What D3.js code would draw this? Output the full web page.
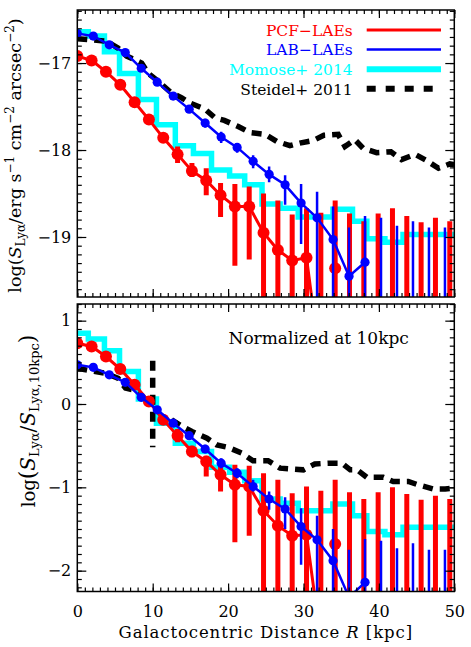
<!DOCTYPE html>
<html><head><meta charset="utf-8">
<script src="https://cdn.jsdelivr.net/npm/d3@7"></script>
<style>body{margin:0;background:#fff}svg{display:block}</style>
</head><body>
<svg id="c" width="471" height="647"></svg>
<script>
// ---------- data ----------
const xTickVals = [0, 10, 20, 30, 40, 50];
const topTickVals = [-19, -18, -17];
const botTickVals = [-2, -1, 0, 1];
const seriesNames = ["PCF\u2212LAEs", "LAB\u2212LAEs", "Momose+ 2014", "Steidel+ 2011"];
const noteText = "Normalized at 10kpc";

// PCF-LAEs (red)
const pcfR = [0,1.9,3.8,5.7,7.6,9.5,11.4,13.3,15.2,17.1,19.0,20.9,22.8,24.7,26.6,28.5,30.4,32.3,34.2,36.1,38.0,39.9,41.8,43.7,45.6,47.5,49.4];
const pcfTop = [-16.92,-16.97,-17.10,-17.25,-17.45,-17.65,-17.86,-18.05,-18.24,-18.35,-18.52,-18.65,-18.65,-18.95,-19.15,-19.27,-19.24,-20.5,-19.36,null,null,null,null,null,null,null,null];
const pcfTopHi = [-16.90,-16.95,-17.07,-17.22,-17.42,-17.62,-17.81,-17.96,-18.15,-18.21,-18.38,-18.39,-18.42,-18.50,-18.58,-18.74,-18.67,-18.72,-18.58,-18.73,-18.82,-18.73,-18.67,-18.76,-18.83,-18.78,-18.82];
const pcfTopLo = [-16.94,-16.99,-17.13,-17.28,-17.48,-17.68,-17.91,-18.15,-18.31,-18.52,-18.77,-19.33,-19.26,-21,-21,-21,-21,-21,-21,-21,-21,-21,-21,-21,-21,-21,-21];
const pcfBot = [0.73,0.69,0.57,0.42,0.23,0.03,-0.19,-0.38,-0.57,-0.69,-0.85,-0.97,-0.99,-1.28,-1.46,-1.58,-1.57,-2.85,-1.68,null,null,null,null,null,null,null,null];
const pcfBotHi = [0.75,0.71,0.60,0.45,0.26,0.06,-0.14,-0.30,-0.50,-0.62,-0.73,-0.73,-0.74,-0.83,-0.91,-1.07,-0.99,-1.04,-0.91,-1.06,-1.14,-1.06,-1.00,-1.08,-1.15,-1.10,-1.14];
const pcfBotLo = [0.71,0.67,0.54,0.39,0.20,0.00,-0.24,-0.46,-0.64,-0.87,-1.05,-1.66,-1.58,-3.5,-3.5,-3.5,-3.5,-3.5,-3.5,-3.5,-3.5,-3.5,-3.5,-3.5,-3.5,-3.5,-3.5];
const pcfLastJoined = 17;   // line joins points 0..17

// LAB-LAEs (blue)
const labR = [0,2.12,4.24,6.36,8.48,10.6,12.72,14.84,16.96,19.08,21.2,23.32,25.44,27.56,29.68,31.8,33.92,36.04,38.16,40.28,42.4,44.52,46.64,48.76];
const labTop = [-16.66,-16.69,-16.79,-16.88,-17.06,-17.22,-17.38,-17.53,-17.69,-17.85,-17.97,-18.13,-18.28,-18.40,-18.61,-18.78,-19.03,-19.45,-19.29,null,null,null,null,null];
const labTopHi = [-16.65,-16.68,-16.78,-16.87,-17.04,-17.20,-17.35,-17.49,-17.64,-17.79,-17.92,-18.06,-18.19,-18.29,-18.39,-18.48,-18.65,-18.89,-18.76,-18.78,-18.87,-18.82,-18.89,-18.89];
const labTopLo = [-16.67,-16.70,-16.80,-16.89,-17.08,-17.24,-17.41,-17.57,-17.74,-17.92,-18.03,-18.21,-18.37,-18.63,-19.08,-21,-21,-21,-21,-21,-21,-21,-21,-21];
const labBot = [0.47,0.44,0.35,0.26,0.08,-0.07,-0.23,-0.38,-0.54,-0.71,-0.83,-0.99,-1.14,-1.26,-1.47,-1.63,-1.88,-2.32,-2.14,null,null,null,null,null];
const labBotHi = [0.48,0.45,0.36,0.27,0.10,-0.05,-0.20,-0.34,-0.49,-0.65,-0.77,-0.91,-1.05,-1.12,-1.25,-1.34,-1.50,-1.75,-1.62,-1.64,-1.73,-1.67,-1.75,-1.75];
const labBotLo = [0.46,0.43,0.34,0.25,0.06,-0.09,-0.26,-0.42,-0.59,-0.77,-0.89,-1.05,-1.27,-1.50,-1.93,-3.5,-3.5,-3.5,-3.5,-3.5,-3.5,-3.5,-3.5,-3.5];

// Momose+ 2014 (cyan step)
const momEdges = [0,1.46,3.6,5.6,8.1,10.5,13.0,15.4,17.8,20.2,22.2,24.5,26.9,29.3,33.9,36.5,38.4,40.8,43.2,50];
const momTop = [-16.64,-16.69,-16.87,-17.12,-17.42,-17.71,-17.95,-18.04,-18.23,-18.30,-18.40,-18.62,-18.67,-18.77,-18.68,-18.82,-19.02,-19.06,-18.97];
const momBot = [0.85,0.78,0.64,0.39,0.06,-0.23,-0.47,-0.57,-0.76,-0.82,-0.92,-1.14,-1.19,-1.28,-1.20,-1.34,-1.53,-1.57,-1.48];

// Steidel+ 2011 (black dashed); null = break in the line
const stR = [0,1.46,3.9,5.44,6.55,8.54,9.42,10.74,12.3,13.85,14.95,16.94,18.26,19.5,21.35,22.9,24.9,26.45,28.2,29.5,31.3,32.7,34.6,35.5,36.8,37.9,39.7,41.6,43.0,44.8,46.3,47.9,49.4,50];
const stTop = [-16.72,-16.73,-16.75,-16.83,-16.92,-17.00,-17.12,-17.21,-17.33,-17.40,-17.46,-17.53,-17.63,-17.66,-17.73,-17.80,-17.82,-17.90,-17.95,-17.92,-17.89,-17.83,-17.82,-17.96,-17.88,-17.98,-18.03,-18.02,-18.11,-18.05,-18.12,-18.21,-18.16,-18.17];
const stBR = [0,1.7,3.7,5.4,6.4,8.3,9.0,10.0,10.0,11.8,12.5,13.9,15.2,17.2,18.5,20.0,21.8,23.3,25.3,26.9,28.4,30.0,31.5,33.2,35.1,36.2,37.1,38.4,40.6,41.9,43.9,45.2,47.2,48.8,50];
const stBot = [0.43,0.40,0.37,0.31,0.19,0.15,null,0.52,-0.52,null,-0.19,-0.27,-0.33,-0.41,-0.49,-0.52,-0.59,-0.68,-0.68,-0.77,-0.78,-0.79,-0.72,-0.71,-0.71,-0.79,-0.79,-0.88,-0.88,-0.93,-0.93,-0.97,-1.02,-1.02,-1.01];

// ---------- layout / style ----------
const FONT = "'DejaVu Serif', serif";
const COL = {pcf: "#ff0000", lab: "#0000ff", mom: "#00ffff", st: "#000000"};
const svg = d3.select("#c");
const L = 77.3, R = 454.3;
const x = d3.scaleLinear().domain([0, 50]).range([L, R]);
const panels = [
  {id: "top", y: d3.scaleLinear().domain([-19.69, -16.39]).range([297, 10]), major: topTickVals,
   minor: d3.range(-196, -163).map(d => d / 10),
   pcf: pcfTop, pcfHi: pcfTopHi, pcfLo: pcfTopLo, lab: labTop, labHi: labTopHi, labLo: labTopLo,
   mom: momTop, stx: stR, sty: stTop, xlabels: false},
  {id: "bot", y: d3.scaleLinear().domain([-2.25, 1.2]).range([591.5, 304]), major: botTickVals,
   minor: d3.range(-22, 13).map(d => d / 10),
   pcf: pcfBot, pcfHi: pcfBotHi, pcfLo: pcfBotLo, lab: labBot, labHi: labBotHi, labLo: labBotLo,
   mom: momBot, stx: stBR, sty: stBot, xlabels: true}
];
const xMinor = d3.range(0, 51, 1);

const defs = svg.append("defs");

panels.forEach(p => {
  const y = p.y;
  const [yb, yt] = y.range();
  defs.append("clipPath").attr("id", "clip-" + p.id)
    .append("rect").attr("x", L).attr("y", yt).attr("width", R - L).attr("height", yb - yt);
  const g = svg.append("g").attr("clip-path", `url(#clip-${p.id})`);

  // Momose step
  const momPts = p.mom.map((v, i) => [momEdges[i], v]);
  momPts.push([momEdges[momEdges.length - 1], p.mom[p.mom.length - 1]]);
  g.append("path").datum(momPts)
    .attr("d", d3.line().x(d => x(d[0])).y(d => y(d[1])).curve(d3.curveStepAfter))
    .attr("fill", "none").attr("stroke", COL.mom).attr("stroke-width", 5.5).attr("stroke-linejoin", "miter");

  // Steidel dashed
  const stPts = p.stx.map((r, i) => [r, p.sty[i]]);
  g.append("path").datum(stPts)
    .attr("d", d3.line().defined(d => d[1] != null).x(d => x(d[0])).y(d => y(d[1])))
    .attr("fill", "none").attr("stroke", COL.st).attr("stroke-width", 5.5)
    .attr("stroke-dasharray", "10,7");

  // PCF (red)
  const pcfPts = pcfR.map((r, i) => ({r, v: p.pcf[i], hi: p.pcfHi[i], lo: p.pcfLo[i], i}));
  g.append("path").datum(pcfPts.filter(d => d.i <= pcfLastJoined && d.v != null))
    .attr("d", d3.line().x(d => x(d.r)).y(d => y(d.v)))
    .attr("fill", "none").attr("stroke", COL.pcf).attr("stroke-width", 3);
  g.selectAll(".pcfErr").data(pcfPts).join("line")
    .attr("x1", d => x(d.r)).attr("x2", d => x(d.r))
    .attr("y1", d => y(d.hi)).attr("y2", d => y(d.lo))
    .attr("stroke", COL.pcf).attr("stroke-width", 5);
  g.selectAll(".pcfDot").data(pcfPts.filter(d => d.v != null)).join("circle")
    .attr("cx", d => x(d.r)).attr("cy", d => y(d.v)).attr("r", 6).attr("fill", COL.pcf);

  // LAB (blue)
  const labPts = labR.map((r, i) => ({r, v: p.lab[i], hi: p.labHi[i], lo: p.labLo[i]}));
  g.append("path").datum(labPts.filter(d => d.v != null))
    .attr("d", d3.line().x(d => x(d.r)).y(d => y(d.v)))
    .attr("fill", "none").attr("stroke", COL.lab).attr("stroke-width", 2.5);
  g.selectAll(".labErr").data(labPts).join("line")
    .attr("x1", d => x(d.r)).attr("x2", d => x(d.r))
    .attr("y1", d => y(d.hi)).attr("y2", d => y(d.lo))
    .attr("stroke", COL.lab).attr("stroke-width", 2.5);
  g.selectAll(".labDot").data(labPts.filter(d => d.v != null)).join("circle")
    .attr("cx", d => x(d.r)).attr("cy", d => y(d.v)).attr("r", 4.6).attr("fill", COL.lab);

  // axes (ticks inward on all four sides)
  const styleAxis = (sel) => {
    sel.select(".domain").remove();
    sel.selectAll("line").attr("stroke", "#000").attr("stroke-width", 1.2);
    sel.selectAll("text").attr("font-family", FONT).attr("font-size", 16).attr("fill", "#000");
  };
  const ax = svg.append("g");
  ax.append("g").attr("transform", `translate(${L},0)`)
    .call(d3.axisLeft(y).tickValues(p.minor).tickSize(-4.5).tickFormat("")).call(styleAxis);
  ax.append("g").attr("transform", `translate(${R},0)`)
    .call(d3.axisRight(y).tickValues(p.minor).tickSize(-4.5).tickFormat("")).call(styleAxis);
  ax.append("g").attr("transform", `translate(0,${yt})`)
    .call(d3.axisTop(x).tickValues(xMinor).tickSize(-4).tickFormat("")).call(styleAxis);
  ax.append("g").attr("transform", `translate(0,${yb})`)
    .call(d3.axisBottom(x).tickValues(xMinor).tickSize(-4).tickFormat("")).call(styleAxis);
  ax.append("g").attr("transform", `translate(${L},0)`)
    .call(d3.axisLeft(y).tickValues(p.major).tickSize(-9).tickPadding(6).tickFormat(d3.format("d"))).call(styleAxis);
  ax.append("g").attr("transform", `translate(${R},0)`)
    .call(d3.axisRight(y).tickValues(p.major).tickSize(-9).tickFormat("")).call(styleAxis);
  ax.append("g").attr("transform", `translate(0,${yt})`)
    .call(d3.axisTop(x).tickValues(xTickVals).tickSize(-8).tickFormat("")).call(styleAxis);
  ax.append("g").attr("transform", `translate(0,${yb})`)
    .call(d3.axisBottom(x).tickValues(xTickVals).tickSize(-8).tickPadding(14)
      .tickFormat(p.xlabels ? d3.format("d") : "")).call(styleAxis);

  svg.append("rect").attr("x", L).attr("y", yt).attr("width", R - L).attr("height", yb - yt)
    .attr("fill", "none").attr("stroke", "#000").attr("stroke-width", 1.5);
});

// legend
const legCols = [COL.pcf, COL.lab, COL.mom, COL.st];
const legW = [3, 2.5, 6, 6];
const legDash = [null, null, null, "9,10"];
seriesNames.forEach((name, i) => {
  const yy = 30 + i * 19.6;
  svg.append("text").attr("x", 352.7).attr("y", yy + 5.7).attr("text-anchor", "end")
    .attr("font-family", FONT).attr("font-size", 15.5).attr("fill", legCols[i]).text(name);
  svg.append("line").attr("x1", 366.7).attr("x2", 441).attr("y1", yy).attr("y2", yy)
    .attr("stroke", legCols[i]).attr("stroke-width", legW[i]).attr("stroke-dasharray", legDash[i]);
});

// note
svg.append("text").attr("x", 228.5).attr("y", 344).attr("font-family", FONT).attr("font-size", 17)
  .text(noteText);

// x label
const xl = svg.append("text").attr("x", 265.8).attr("y", 638).attr("text-anchor", "middle")
  .attr("font-family", FONT).attr("font-size", 16.5).attr("letter-spacing", 0.9);
xl.append("tspan").text("Galactocentric Distance ");
xl.append("tspan").attr("font-style", "italic").text("R");
xl.append("tspan").text(" [kpc]");

// y label top
const yl1 = svg.append("text").attr("transform", "translate(21,155.5) rotate(-90)")
  .attr("text-anchor", "middle").attr("font-family", FONT).attr("font-size", 17.5);
yl1.append("tspan").text("log(");
yl1.append("tspan").attr("font-style", "italic").text("S");
yl1.append("tspan").attr("font-size", 12).attr("dy", 4).text("Ly\u03b1");
yl1.append("tspan").attr("dy", -4).text("/erg s");
yl1.append("tspan").attr("font-size", 12).attr("dy", -7).text("\u22121");
yl1.append("tspan").attr("dy", 7).text(" cm");
yl1.append("tspan").attr("font-size", 12).attr("dy", -7).text("\u22122");
yl1.append("tspan").attr("dy", 7).text(" arcsec");
yl1.append("tspan").attr("font-size", 12).attr("dy", -7).text("\u22122");
yl1.append("tspan").attr("dy", 7).text(")");

// y label bottom
const yl2 = svg.append("text").attr("transform", "translate(35,421) rotate(-90)")
  .attr("text-anchor", "middle").attr("font-family", FONT).attr("font-size", 18);
yl2.append("tspan").text("log");
yl2.append("tspan").attr("font-size", 22).text("(");
yl2.append("tspan").attr("font-style", "italic").attr("font-size", 20).text("S");
yl2.append("tspan").attr("font-size", 13).attr("dy", 4).text("Ly\u03b1");
yl2.append("tspan").attr("font-size", 20).attr("dy", -4).text("/");
yl2.append("tspan").attr("font-style", "italic").attr("font-size", 20).text("S");
yl2.append("tspan").attr("font-size", 13).attr("dy", 4).text("Ly\u03b1,10kpc");
yl2.append("tspan").attr("font-size", 22).attr("dy", -4).text(")");
</script>
</body></html>
